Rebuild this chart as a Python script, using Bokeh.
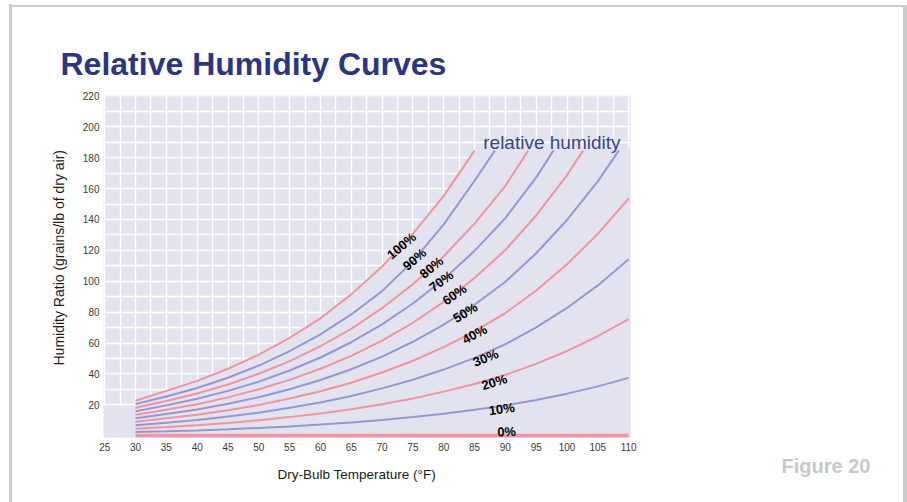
import numpy as np
from bokeh.plotting import figure
from bokeh.models import Range1d, FixedTicker, Label, Title, ColumnDataSource
from bokeh.core.properties import value
from bokeh.embed import file_html
from bokeh.resources import INLINE

# ---------------- data ----------------
temps = [30, 35, 40, 45, 50, 55, 60, 65, 70, 75, 80, 85, 90, 95, 100, 105, 110]
rh_names = ["100%", "90%", "80%", "70%", "60%", "50%", "40%", "30%", "20%", "10%", "0%"]
rh100 = [22.6, 29.0, 35.5, 43.3, 52.5, 63.3, 76.0, 91.5, 109.5, 130.8, 155.3, 184.6]
rh90 = [20.5, 25.4, 30.9, 37.5, 45.4, 54.7, 65.6, 78.5, 93.6, 113.0, 136.8, 165.1]
rh80 = [18.1, 22.4, 27.3, 33.1, 40.1, 48.3, 57.9, 69.2, 82.6, 98.1, 116.2, 137.3, 161.8]
rh70 = [15.8, 19.6, 23.9, 29.0, 35.0, 42.2, 50.6, 60.5, 72.1, 85.6, 101.3, 119.7, 140.9, 167.3]
rh60 = [13.5, 16.8, 20.4, 24.8, 30.0, 36.1, 43.3, 51.7, 61.6, 73.1, 86.6, 102.1, 120.2, 142.6, 168.7]
rh50 = [11.3, 14.0, 17.0, 20.6, 24.9, 30.0, 36.0, 43.0, 51.2, 60.8, 71.9, 84.8, 99.7, 118.1, 139.7, 164.7]
rh40 = [9.0, 11.2, 13.6, 16.5, 19.9, 24.0, 28.8, 34.3, 40.9, 48.5, 57.3, 67.5, 79.4, 94.0, 111.0, 130.7, 153.6]
rh30 = [6.8, 8.4, 10.2, 12.4, 14.9, 18.0, 21.5, 25.7, 30.6, 36.2, 42.8, 50.4, 59.2, 70.1, 82.7, 97.3, 114.2]
rh20 = [4.5, 5.6, 6.8, 8.2, 9.9, 12.0, 14.3, 17.1, 20.3, 24.1, 28.5, 33.5, 39.3, 46.5, 54.8, 64.4, 75.5]
rh10 = [2.3, 2.8, 3.4, 4.1, 5.0, 6.0, 7.2, 8.5, 10.1, 12.0, 14.2, 16.7, 19.6, 23.1, 27.2, 31.9, 37.4]
rh0 = [0.0] * 17
# where the upper curves stop (temperature) and the humidity ratio there
end_t = [None, 88.3, 93.7, 97.8, 102.6, 108.4, None, None, None, None, None]
top_w = 184.6
# temperature at which each curve label sits
label_t = [73.15, 75.25, 78.0, 79.6, 81.75, 83.5, 85.0, 86.8, 88.2, 89.4, 90.2]
label_angle_deg = [40, 40, 40, 37, 35, 31, 28, 22, 17, 8, 2]
label_dy = [0, 0, 0, 0, 1, 2, 3, 5, 4, 3, -4]

x_ticks = list(range(25, 111, 5))
y_ticks = list(range(20, 221, 20))

curves = [rh100, rh90, rh80, rh70, rh60, rh50, rh40, rh30, rh20, rh10, rh0]

PINK = "#f0949f"
BLUE = "#9797cf"
BG = "#e3e3ef"
SANS = "Liberation Sans"

p = figure(width=907, height=502, x_range=Range1d(24.8, 110.3), y_range=Range1d(-1.2, 220.3),
           output_backend="svg", toolbar_location=None,
           min_border_left=103, min_border_right=277, min_border_top=95, min_border_bottom=65)
p.background_fill_color = BG
p.border_fill_alpha = 0
p.outline_line_color = None
p.styles = {
    "background-color": "white",
    "background-image": "linear-gradient(#cccccc,#cccccc), linear-gradient(#cccccc,#cccccc), "
                        "linear-gradient(#cccccc,#cccccc)",
    "background-size": "3px 498px, 4px 498px, 898px 2px",
    "background-position": "9px 4px, 903px 5px, 9px 5px",
    "background-repeat": "no-repeat",
}

p.xgrid.ticker = FixedTicker(ticks=list(np.arange(25, 110.1, 2.5)))
p.ygrid.ticker = FixedTicker(ticks=list(np.arange(10, 220.1, 10)))
for g in (p.xgrid, p.ygrid):
    g.grid_line_color = "white"
    g.grid_line_width = 1.4

p.xaxis.ticker = FixedTicker(ticks=x_ticks)
p.yaxis.ticker = FixedTicker(ticks=y_ticks)
for ax in (p.xaxis, p.yaxis):
    ax.axis_line_color = None
    ax.major_tick_line_color = None
    ax.minor_tick_line_color = None
    ax.major_tick_out = 0
    ax.major_tick_in = 0
    ax.minor_tick_out = 0
    ax.minor_tick_in = 0
    ax.major_label_text_font = SANS
    ax.major_label_text_font_size = "10px"
    ax.major_label_text_color = "#3a3a3a"
p.xaxis.major_label_standoff = 5
p.yaxis.major_label_standoff = 4

# region under the saturation curve hides the grid
fill_top = 187.0
xs = [24.8, 24.8, 30] + temps[:len(rh100)] + [85.3, 110.3, 110.3]
ys = [-1.2, 19.3, 19.3] + rh100 + [fill_top, fill_top, -1.2]
p.patch(xs, ys, fill_color=BG, line_color=None)

lab_y = []
for i, w in enumerate(curves):
    t = temps[:len(w)]
    wl = list(w)
    if end_t[i] is not None:
        t = t + [end_t[i]]
        wl = wl + [top_w]
    color = PINK if i % 2 == 0 else BLUE
    lw = 4 if rh_names[i] == "0%" else 2
    p.line(t, wl, line_color=color, line_width=lw)
    lab_y.append(float(np.interp(label_t[i], t, wl)) - label_dy[i] / 1.544)

src = ColumnDataSource(dict(x=label_t, y=lab_y, text=rh_names,
                            angle=[np.radians(a) for a in label_angle_deg]))
p.text(x="x", y="y", text="text", angle="angle", source=src,
       text_font=value(SANS), text_font_style="bold", text_font_size="13px",
       text_color="black", text_align="center", text_baseline="middle")

p.add_layout(Label(x=108.68, y=190.1, text="relative humidity", text_font=SANS,
                   text_font_size="19px", text_color="#3a4290", text_align="right",
                   text_baseline="alphabetic"))

# main title
p.title.text = "Relative Humidity Curves"
p.title.align = "left"
p.title.offset = -43
p.title.standoff = 28
p.title.text_font = SANS
p.title.text_font_style = "bold"
p.title.text_font_size = "32px"
p.title.text_color = "#2b3583"
p.title.vertical_align = "bottom"

# y axis label
p.add_layout(Title(text="Humidity Ratio (grains/lb of dry air)", align="left", offset=72,
                   standoff=26, text_font=SANS, text_font_style="normal", text_font_size="14px",
                   text_color="#1a1a1a", vertical_align="bottom"), "left")


def below_title(text, offset, standoff, size, bold, color):
    try:
        t = Title(text=text, align="left", offset=offset, standoff=standoff)
    except ValueError:
        t = Title(text=text, align="left", offset=offset, standoff=0)
    t.text_font = SANS
    t.text_font_size = size
    t.text_font_style = "bold" if bold else "normal"
    t.text_color = color
    t.vertical_align = "top"
    return t


p.add_layout(below_title("Figure 20", 678, 2, "20px", True, "#c8c8c8"), "below")
p.add_layout(below_title("Dry-Bulb Temperature (°F)", 174, -26, "13.5px", False, "#1a1a1a"), "below")

open("out.html", "w").write(file_html(p, INLINE))
